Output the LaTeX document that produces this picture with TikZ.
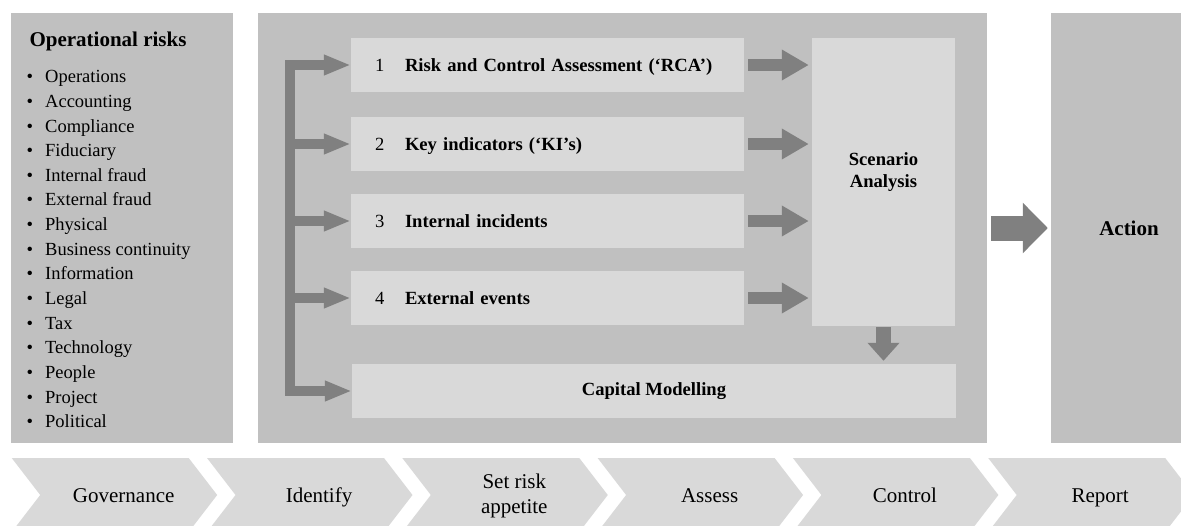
\documentclass[tikz,border=0pt]{standalone}
\usepackage{fontspec}
\setmainfont{Liberation Serif}
\usetikzlibrary{arrows.meta}
\definecolor{panelgray}{RGB}{192,192,192}
\definecolor{boxgray}{RGB}{217,217,217}
\definecolor{arrowgray}{RGB}{128,128,128}

\begin{document}
\begin{tikzpicture}[x=1pt, y=-1pt,
    panel/.style={fill=panelgray, inner sep=0pt, minimum height=430},
    box/.style={fill=boxgray, inner sep=0pt, font=\bfseries\fontsize{18.6}{22}\selectfont},
    item box/.style={box, minimum width=393, minimum height=54, inner xsep=24, text width=345, align=left, text height=16, text depth=4},
    listfont/.style={font=\fontsize{18.5}{22}\selectfont},
    headfont/.style={font=\bfseries\fontsize{21}{25}\selectfont},
    feedtip/.tip={Triangle[length=27pt, width=19pt]},
    feed/.style={draw=arrowgray, line width=10pt, -feedtip},
    push/.style={draw=arrowgray, line width=12pt, -{Triangle[length=27pt, width=29pt]}, shorten <=4pt, shorten >=3pt},
    drop/.style={draw=arrowgray, line width=15pt, -{Triangle[length=18pt, width=31pt]}, shorten <=1pt, shorten >=3pt},
    bigpush/.style={draw=arrowgray, line width=25pt, -{Triangle[length=25pt, width=49pt]}, shorten <=4pt, shorten >=3pt}]
    \useasboundingbox (0,0) rectangle (1181,525);

    % three panels
    \node[panel, minimum width=222] (risks) at (122,228) {};
    \node[panel, minimum width=729] (core) at (622.5,228) {};
    \node[panel, minimum width=156, headfont] (action) at (1129,228) {Action};

    % list of risks
    \node[anchor=base west, headfont] (head) at (26,46.7) {Operational risks};
    \foreach \r [count=\i from 0] in {Operations, Accounting, Compliance, Fiduciary, Internal fraud,
        External fraud, Physical, Business continuity, Information, Legal, Tax, Technology,
        People, Project, Political}
        \node[anchor=base west, listfont, inner sep=0pt] (risk\i) at (26.5,{82.7+24.65*\i}) {\makebox[18.5pt][l]{•}\r};

    % inputs
    \node[item box] (box1) at (547.5,65) {\makebox[30pt][l]{\mdseries 1}Risk and Control Assessment (‘RCA’)};
    \node[item box] (box2) at (547.5,144) {\makebox[30pt][l]{\mdseries 2}Key indicators (‘KI’s)};
    \node[item box] (box3) at (547.5,221) {\makebox[30pt][l]{\mdseries 3}Internal incidents};
    \node[item box] (box4) at (547.5,298) {\makebox[30pt][l]{\mdseries 4}External events};
    \node[box, minimum width=604, minimum height=54] (cap) at (654,391) {Capital Modelling};
    \node[box, minimum width=143, minimum height=288] (scen) at (883.5,182) {};
    \node[box, fill=none, align=center] (scentxt) at (883.5,172) {Scenario\\Analysis};

    % arrows
    \coordinate (bar) at (289.5,0);
    \draw[feed, feedtip-feedtip] (box1.west) -| (bar |- cap.west) -- (cap.west);
    \foreach \i in {2,3,4}
        \draw[feed] (bar |- box\i.west) -- (box\i.west);
    \foreach \i in {1,...,4}
        \draw[push] (box\i.east) -- (box\i.east -| scen.west);
    \draw[drop] (scen.south) -- (scen.south |- cap.north);
    \draw[bigpush] (core.east) -- (action.west);

    % process chevrons
    \foreach \s/\yb [count=\i from 0] in {Governance/502, Identify/502, {Set risk\\appetite}/513, Assess/502, Control/502, Report/502} {
        \pgfmathsetmacro\xo{11.7+195.3*\i}
        \fill[boxgray] (\xo,458) -- ++(177,0) -- ++(28.5,37) -- ++(-28.5,37) -- ++(-177,0) -- ++(28.5,-37) -- cycle;
        \node[anchor=base, align=center, inner sep=0pt, font=\fontsize{21}{24.5}\selectfont] (phase\i) at (\xo+112,\yb) {\s};
    }
\end{tikzpicture}
\end{document}
